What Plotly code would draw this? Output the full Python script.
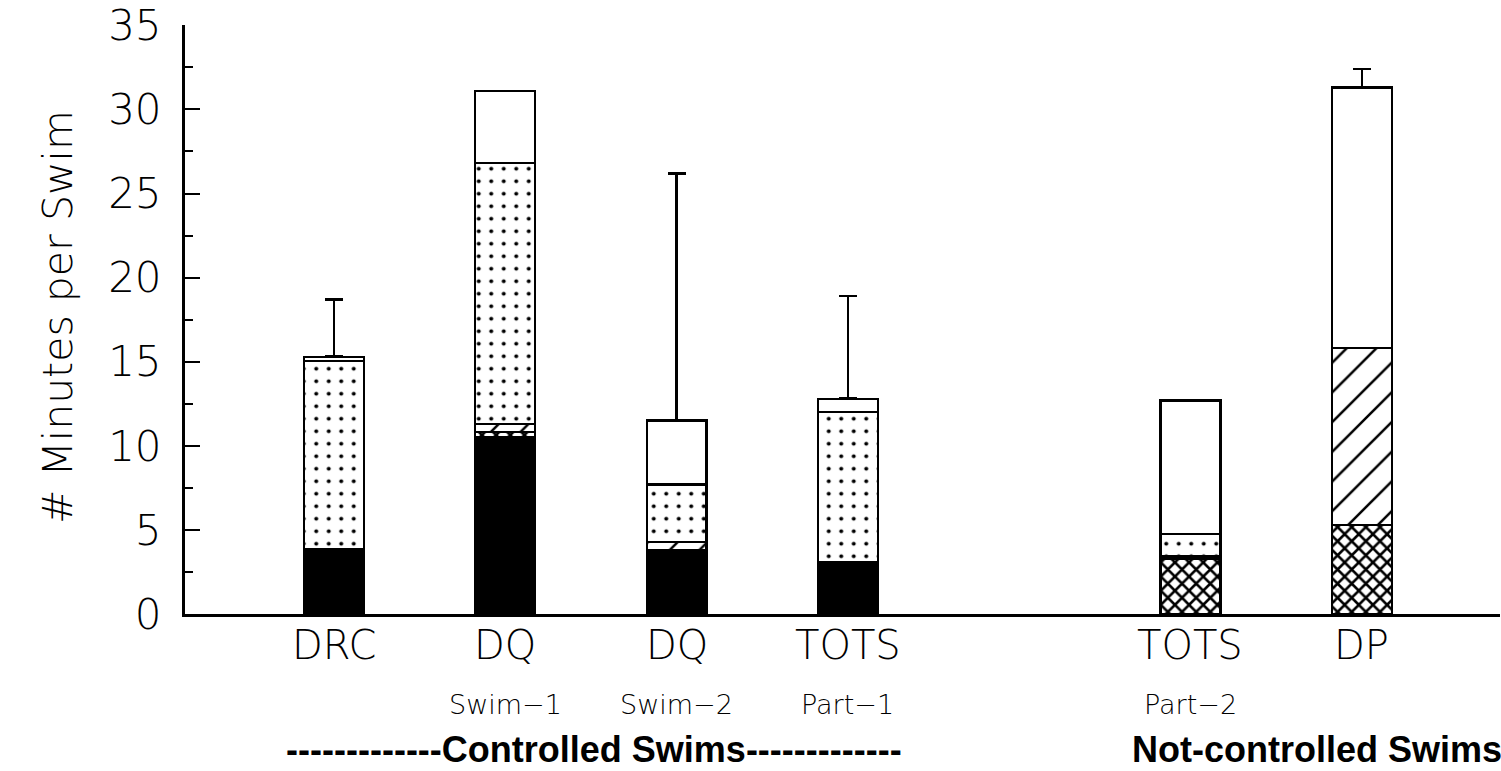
import plotly.graph_objects as go

# ---- data -------------------------------------------------------------
positions = [1, 2, 3, 4, 6, 7]
categories = ["DRC", "DQ", "DQ", "TOTS", "TOTS", "DP"]
sub_labels = ["", "Swim\u22121", "Swim\u22122", "Part\u22121", "Part\u22122", ""]

solid = [3.85, 10.5, 3.8, 3.1, 0, 0]          # black
crosshatch = [0, 0.3, 0, 0, 3.3, 5.3]         # cross-hatched
diagonal = [0, 0.5, 0.5, 0, 0.15, 10.5]       # diagonal hatch
dotted = [11.2, 15.5, 3.4, 8.9, 1.3, 0]       # dotted
white = [0.25, 4.3, 3.8, 0.8, 7.95, 15.5]     # open
err_upper = [3.4, None, 14.7, 6.1, None, 1.1]

y_ticks = [0, 5, 10, 15, 20, 25, 30, 35]
group_labels = ["-------------Controlled Swims-------------", "Not-controlled Swims"]
group_x = [2.52, 6.74]

# ---- figure -----------------------------------------------------------
BW = 0.35
LINE = dict(color="black", width=2.2)
FONT = "'DejaVu Sans', Roboto, sans-serif"
BOLD = "'Liberation Sans', Arial, sans-serif"

fig = go.Figure()
fig.add_trace(go.Bar(x=positions, y=solid, width=BW,
                     marker=dict(color="black", line=LINE)))
fig.add_trace(go.Bar(x=positions, y=crosshatch, width=BW,
                     marker=dict(color="white", line=LINE,
                                 pattern=dict(shape="x", size=10, solidity=0.45,
                                              fgcolor="black", fgopacity=1, bgcolor="white"))))
fig.add_trace(go.Bar(x=positions, y=diagonal, width=BW,
                     marker=dict(color="white", line=LINE,
                                 pattern=dict(shape="/", size=21, solidity=0.12,
                                              fgcolor="black", fgopacity=1, bgcolor="white"))))
fig.add_trace(go.Bar(x=positions, y=dotted, width=BW,
                     marker=dict(color="white", line=LINE,
                                 pattern=dict(shape=".", size=12.5, solidity=0.08,
                                              fgcolor="black", fgopacity=1, bgcolor="white"))))
fig.add_trace(go.Bar(x=positions, y=white, width=BW,
                     marker=dict(color="white", line=LINE),
                     error_y=dict(type="data", array=err_upper, symmetric=False,
                                  arrayminus=[0] * len(positions),
                                  color="black", thickness=2.5, width=9)))

fig.update_layout(
    barmode="stack",
    width=1501, height=771,
    margin=dict(l=185, r=1, t=22, b=157),
    paper_bgcolor="white", plot_bgcolor="white",
    showlegend=False,
    font=dict(family=FONT, color="black"),
)
fig.update_xaxes(range=[0.13, 7.807], showline=True, linecolor="black", linewidth=3,
                 showticklabels=False, ticks="", showgrid=False, zeroline=False)
fig.update_yaxes(range=[0, 35.02], tickvals=y_ticks, showline=True, linecolor="black",
                 linewidth=3, ticks="inside", ticklen=15, tickwidth=2, tickcolor="black",
                 ticklabelstandoff=12, ticklabeloverflow="allow",
                 minor=dict(dtick=2.5, ticks="inside", ticklen=8, tickwidth=2, tickcolor="black"),
                 tickfont=dict(family=FONT, size=42, weight=200, color="black"),
                 showgrid=False, zeroline=False)

for p, c in zip(positions, categories):
    fig.add_annotation(x=p, y=-0.052, xref="x", yref="paper", text=c, showarrow=False,
                       xanchor="center", yanchor="middle",
                       font=dict(family=FONT, size=40, weight=200, color="black"))
for p, s in zip(positions, sub_labels):
    if s:
        fig.add_annotation(x=p, y=-0.154, xref="x", yref="paper", text=s, showarrow=False,
                           xanchor="center", yanchor="middle",
                           font=dict(family=FONT, size=27, weight=200, color="black"))
for gx, g in zip(group_x, group_labels):
    fig.add_annotation(x=gx, y=-0.23, xref="x", yref="paper", text=g, showarrow=False,
                       xanchor="center", yanchor="middle",
                       font=dict(family=BOLD, size=36, weight="bold", color="black"))

fig.add_annotation(x=-0.097, y=0.505, xref="paper", yref="paper", text="# Minutes per Swim",
                   textangle=-90, showarrow=False, xanchor="center", yanchor="middle",
                   font=dict(family=FONT, size=41, weight=200, color="black"))

fig.write_html("out.html")
